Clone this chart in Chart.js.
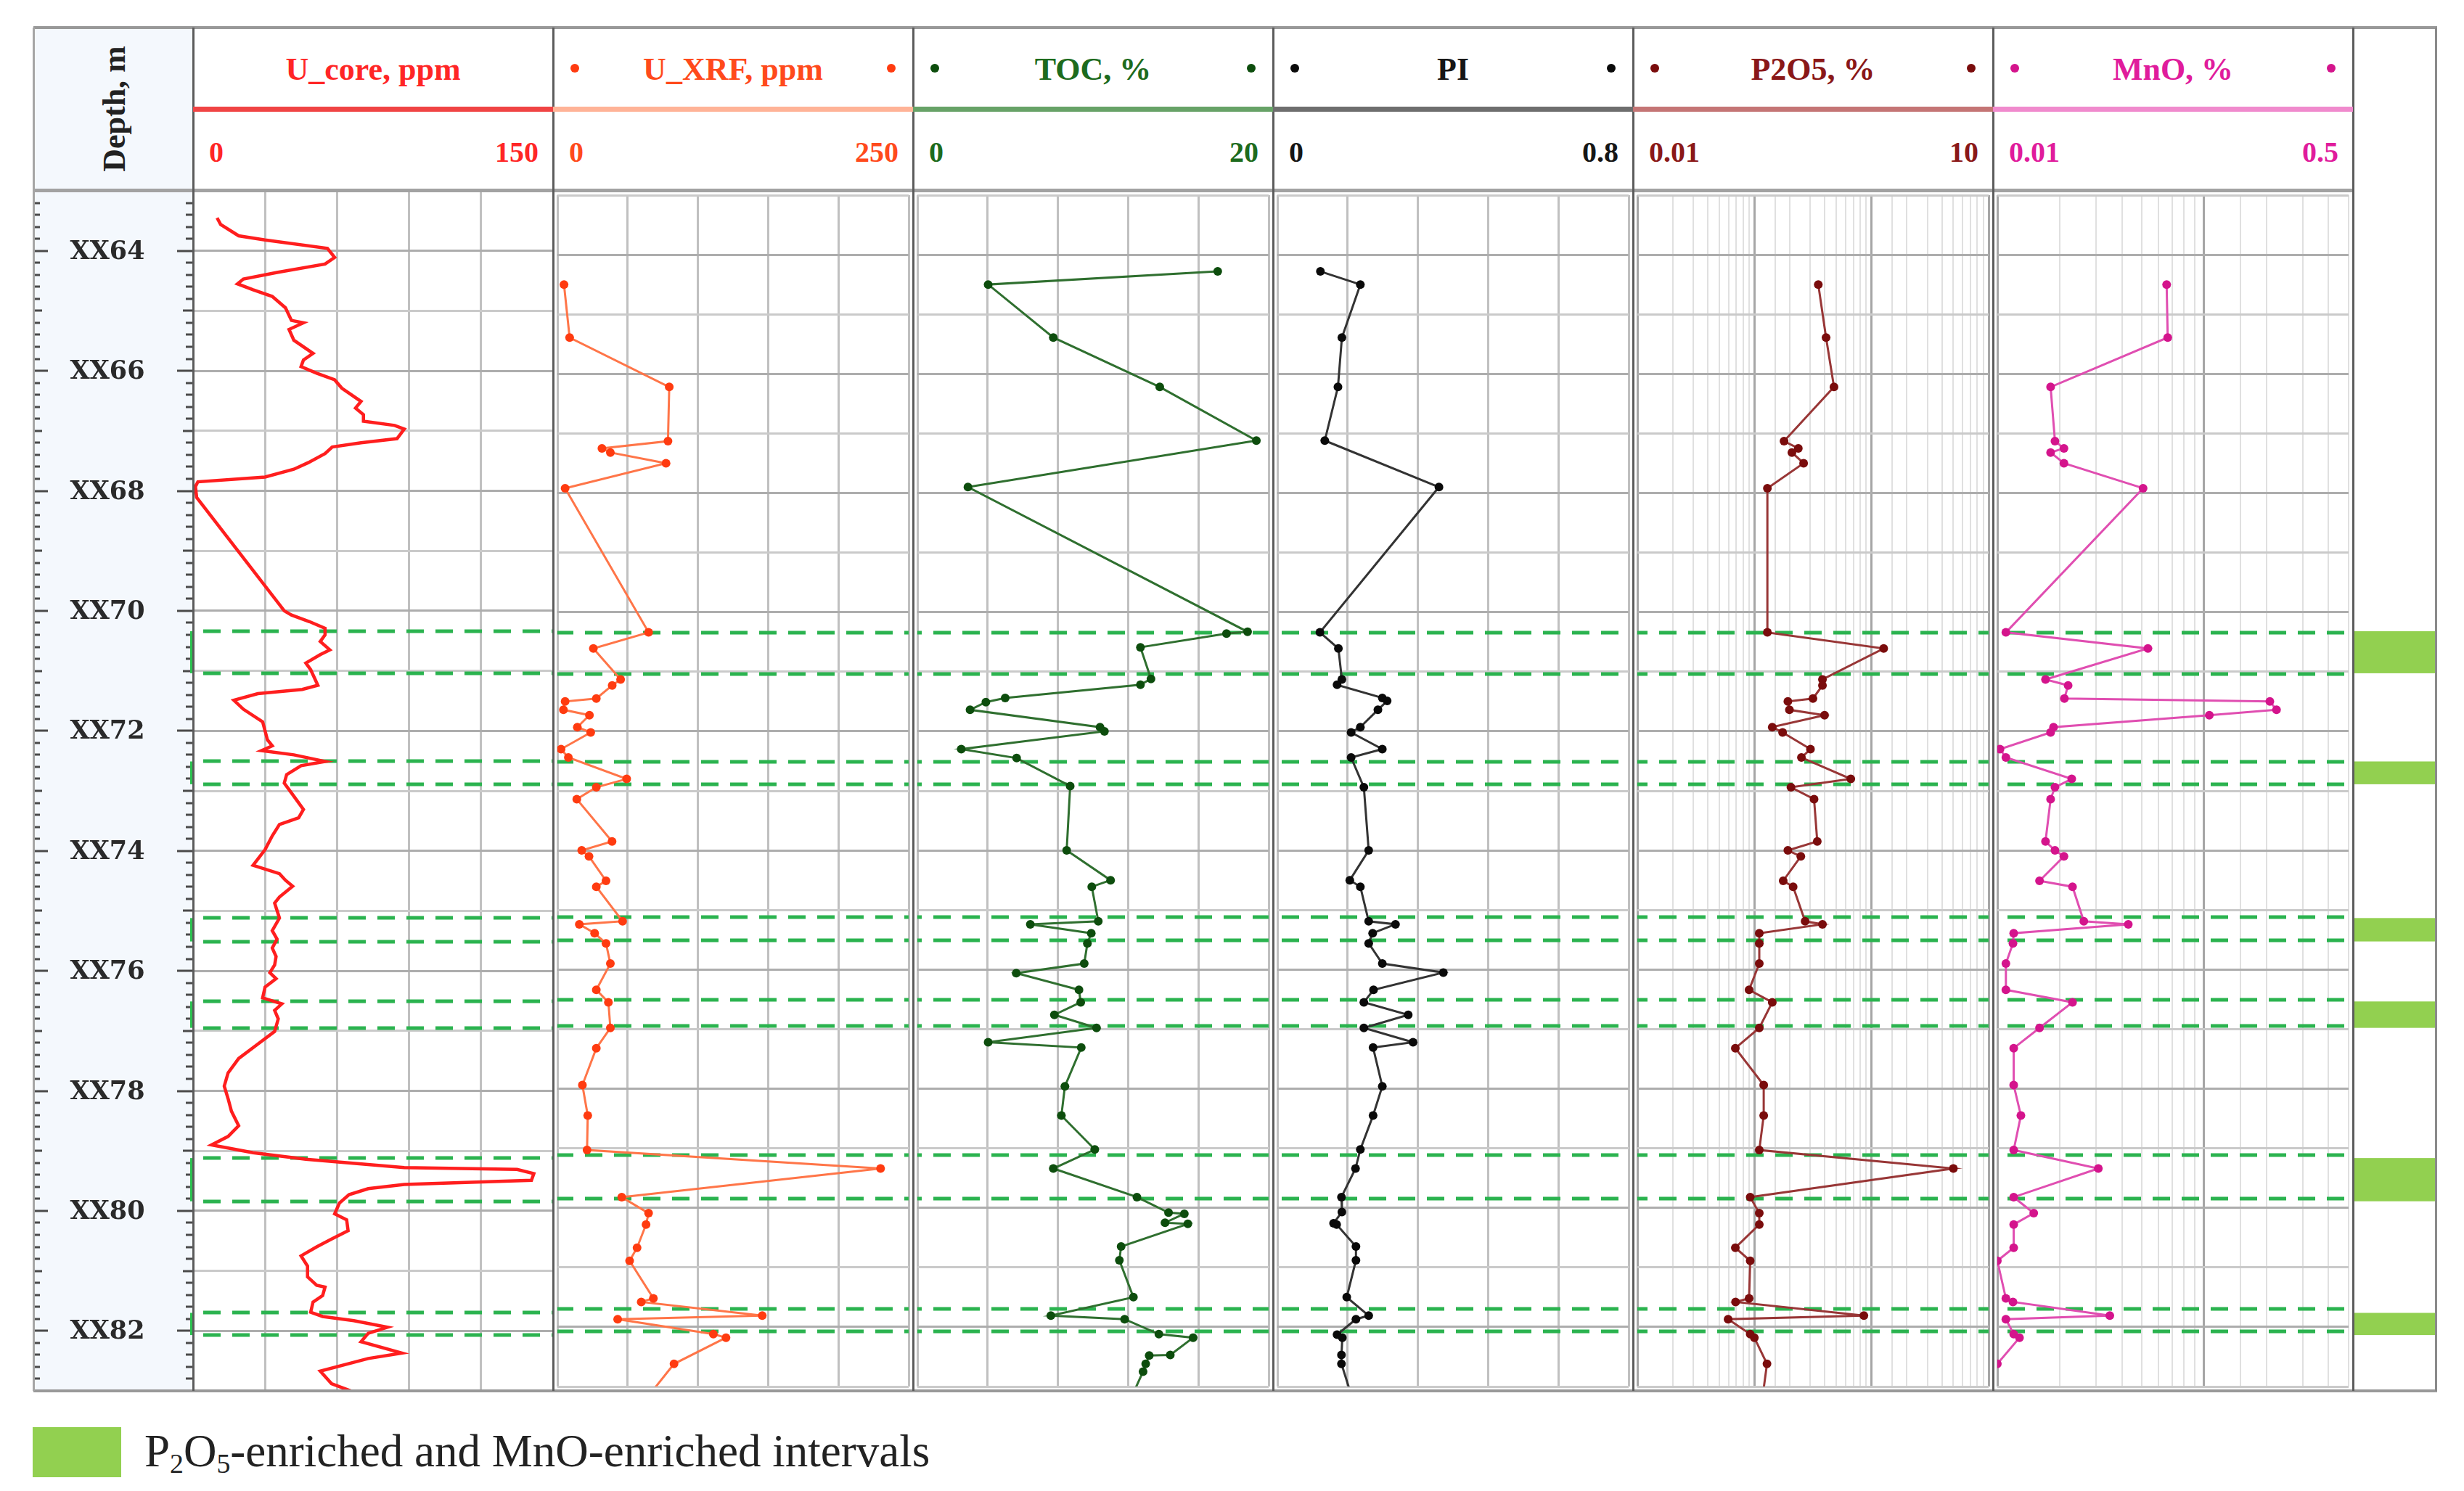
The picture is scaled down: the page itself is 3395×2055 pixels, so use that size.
<!DOCTYPE html>
<html>
<head>
<meta charset="utf-8">
<title>Well log</title>
<script src="https://cdn.jsdelivr.net/npm/chart.js@4.4.1/dist/chart.umd.min.js"></script>
<style>
  html, body { margin:0; padding:0; background:#ffffff; }
  #root { position:relative; width:3395px; height:2055px; overflow:hidden; background:#fff; }
  #root canvas { position:absolute; z-index:1; }
  .bg { position:absolute; z-index:0; }
  .ln { position:absolute; z-index:5; }
  .txt { position:absolute; z-index:6; white-space:nowrap; transform:translate(-50%,-50%); line-height:1; }
  .dot { position:absolute; z-index:6; width:12px; height:12px; border-radius:50%; transform:translate(-50%,-50%); }
</style>
</head>
<body>
<div id="root"></div>
<script>
// ---------------- DATA ----------------
const depthMin = 63;
const depthMax = 83;
const trackNames = ['U_core, ppm', 'U_XRF, ppm', 'TOC, %', 'PI', 'P2O5, %', 'MnO, %'];
const scaleMin = [0, 0, 0, 0, 0.01, 0.01];
const scaleMax = [150, 250, 20, 0.8, 10, 0.5];
const scaleLeftLabels = ['0', '0', '0', '0', '0.01', '0.01'];
const scaleRightLabels = ['150', '250', '20', '0.8', '10', '0.5'];
const depthLabelPrefix = 'XX';

const uCoreDepth = [63.45,63.56,63.75,63.82,63.96,64.11,64.22,64.36,64.47,64.55,64.65,64.76,64.95,65.16,65.2,65.31,65.49,65.71,65.82,65.93,66.04,66.15,66.29,66.51,66.62,66.73,66.84,66.91,66.97,67.13,67.2,67.27,67.38,67.53,67.64,67.77,67.85,67.93,68.11,
  70.0,70.07,70.18,70.29,70.4,70.51,70.65,70.73,70.87,70.98,71.24,71.31,71.38,71.49,71.64,71.85,72.15,72.25,72.33,72.4,72.51,72.58,72.73,72.87,73.09,73.31,73.45,73.56,73.75,73.98,
  74.24,74.38,74.49,74.59,74.77,74.87,75.12,75.33,75.47,75.62,75.76,75.9,76.03,76.13,76.27,76.45,76.55,76.66,76.8,77.01,77.22,77.46,77.7,77.92,78.13,78.34,78.58,78.76,78.9,
  79.03,79.14,79.28,79.31,79.38,79.49,79.56,79.63,79.73,79.87,80.05,80.15,80.33,80.47,80.6,80.75,80.92,81.1,81.24,81.27,81.41,81.52,81.69,81.76,81.83,81.94,82.04,82.18,82.37,82.46,82.67,82.88,83.02];
const uCoreValue = [10,11.5,19,30,56,59,55,35,21,18.5,25,33,38.5,41,46,40,42,50,46,45,51.5,59,62,70,67.7,71,71,84,88,85,70,58,55,48,42,30,2,1,1.5,
  38,41,48.5,55,55,53,57,53,47,49,52,45.5,27,17,21,29,31,33,28.5,42,55,45,39,38,42,46,44,36,33,30,
  25,36,38.5,41.5,36,34,36,33,35,33,34.6,34,32,34.6,30,29,37,34,35.5,34,27,19,14.6,13,14.6,16,19,14.6,7.7,
  25,47,88,135,142,141,88,73,65,61,59,64,64.6,57.7,51.5,45,47.7,47.7,51.5,55,54,50,49,54,67,81,73,70,87,73,53,57.7,67];

const xrfDepth = [64.5,65.39,66.22,67.13,67.25,67.32,67.5,67.92,70.34,70.61,71.13,71.23,71.45,71.5,71.64,71.73,71.93,72.02,72.3,72.44,72.8,72.94,73.14,73.85,74.0,74.1,74.51,74.61,75.19,75.24,75.39,75.56,75.9,76.34,76.55,76.98,77.32,77.94,78.45,79.03,79.34,79.82,80.09,80.28,80.67,80.89,81.52,81.58,81.81,81.87,82.12,82.18,82.62,83.3];
const uXrfValue = [4.7,8.7,79.6,78.7,31.7,37.7,77.3,5.5,64.9,25.6,45,39,27.7,5.5,4.3,22.8,14.2,23.7,2.6,7.8,49.3,27.7,13.8,38.9,17.3,22.5,34.6,27.7,46.4,15.6,26.5,34.6,37.7,27.7,36.3,37.7,27.7,17.8,21.6,21.1,230,45.8,64.9,63.1,56.7,51.4,68.3,59.7,145.8,42.9,111,120,83,60];
const p2o5Value = [0.351,0.409,0.478,0.179,0.237,0.209,0.263,0.129,0.129,1.27,0.381,0.381,0.316,0.193,0.199,0.397,0.142,0.174,0.301,0.252,0.665,0.205,0.323,0.344,0.193,0.249,0.176,0.214,0.271,0.381,0.110,0.110,0.110,0.090,0.142,0.110,0.0687,0.120,0.120,0.110,5.0,0.092,0.110,0.110,0.0687,0.092,0.090,0.069,0.86,0.0596,0.092,0.0998,0.128,0.115];
const mnoValue = [0.0659,0.0667,0.0181,0.019,0.021,0.0181,0.021,0.0507,0.011,0.0535,0.0171,0.022,0.0211,0.208,0.224,0.106,0.0187,0.0181,0.0103,0.011,0.0229,0.019,0.0181,0.0171,0.019,0.021,0.016,0.0231,0.0262,0.043,0.012,0.0119,0.011,0.011,0.0231,0.016,0.012,0.012,0.013,0.012,0.0308,0.012,0.015,0.012,0.012,0.010,0.011,0.0119,0.035,0.011,0.012,0.0128,0.010,0.0085];

const tocDepth = [64.28,64.5,65.39,66.22,67.12,67.9,70.33,70.36,70.59,71.12,71.22,71.44,71.51,71.64,71.93,72.0,72.3,72.45,72.92,74.0,74.5,74.61,75.19,75.24,75.39,75.56,75.9,76.06,76.34,76.55,76.76,76.98,77.22,77.31,77.96,78.45,79.02,79.34,79.82,80.08,80.1,80.25,80.27,80.65,80.88,81.5,81.81,81.87,82.12,82.18,82.47,82.48,82.62,82.75,83.3];
const tocValue = [17.1,4.03,7.74,13.8,19.3,2.88,18.8,17.6,12.7,13.3,12.7,5.0,3.9,3.0,10.4,10.65,2.5,5.65,8.7,8.5,11.0,9.93,10.3,6.43,9.9,9.68,9.5,5.63,9.2,9.3,7.8,10.2,4.03,9.33,8.4,8.2,10.1,7.74,12.5,14.3,15.2,14.1,15.4,11.6,11.5,12.3,7.6,11.8,13.75,15.7,14.4,13.2,13.0,12.85,12.0];

const piDepth = [64.28,64.5,65.39,66.22,67.12,67.9,70.34,70.61,71.13,71.22,71.44,71.49,71.64,71.93,72.02,72.3,72.44,72.94,74.0,74.5,74.61,75.19,75.24,75.39,75.56,75.9,76.05,76.34,76.55,76.76,76.98,77.22,77.31,77.96,78.45,79.02,79.34,79.82,80.07,80.26,80.28,80.65,80.88,81.5,81.81,81.87,82.13,82.18,82.47,82.62,83.3];
const piValue = [0.098,0.189,0.147,0.138,0.108,0.368,0.097,0.139,0.147,0.136,0.239,0.25,0.229,0.189,0.168,0.239,0.168,0.197,0.208,0.165,0.189,0.208,0.269,0.217,0.208,0.239,0.378,0.219,0.197,0.298,0.197,0.309,0.218,0.239,0.218,0.189,0.178,0.146,0.147,0.128,0.135,0.179,0.179,0.158,0.208,0.179,0.136,0.148,0.146,0.146,0.175];

const intervalTop = [70.34, 72.51, 75.12, 76.51, 79.12, 81.70];
const intervalBottom = [71.04, 72.89, 75.51, 76.95, 79.84, 82.07];
const legendText = 'P<sub style="font-size:60%;vertical-align:-0.25em">2</sub>O<sub style="font-size:60%;vertical-align:-0.25em">5</sub>-enriched and MnO-enriched intervals';

// ---------------- LAYOUT / STYLE ----------------
const FRAME_L = 46, FRAME_R = 3356, FRAME_T = 38, HEAD_B = 263, PLOT_B = 1917;
const TRACK_L = 266, TRACK_W = 496, NT = 6;
const RIGHT_COL_L = TRACK_L + NT * TRACK_W; // 3242
const titleColors = ['#ff2626', '#ff4a1c', '#1d6b1d', '#161616', '#8a1818', '#e01c9c'];
const ruleColors = ['#f04444', '#ffb397', '#67a267', '#6e6e6e', '#c47575', '#f08acd'];
const dotColors = [null, '#ff3b10', '#0d4d0d', '#0a0a0a', '#7a0c0c', '#d4148c'];
const lineColors = ['#ff1e1e', '#ff7548', '#2f6f2f', '#333333', '#983636', '#e04eb1'];
const DASH_GREEN = '#2bb34f';
const BAND_GREEN = '#92d050';

const root = document.getElementById('root');
function div(cls, css, html) {
  const d = document.createElement('div');
  d.className = cls;
  Object.assign(d.style, css);
  if (html !== undefined) d.innerHTML = html;
  root.appendChild(d);
  return d;
}

// depth column background
div('bg', {left: FRAME_L + 'px', top: FRAME_T + 'px', width: (TRACK_L - FRAME_L) + 'px', height: (PLOT_B - FRAME_T) + 'px', background: '#f4f8fd'});

// ---------------- PLUGINS ----------------
const intervalLinesPlugin = {
  id: 'intervalLines',
  beforeDatasetsDraw(chart, args, opts) {
    const ys = chart.scales.y, a = chart.chartArea, ctx = chart.ctx;
    ctx.save();
    ctx.strokeStyle = DASH_GREEN;
    ctx.lineWidth = 5;
    ctx.setLineDash([24, 16]);
    ctx.lineDashOffset = (opts.offset || 0) % 40;
    intervalTop.concat(intervalBottom).forEach(d => {
      const py = Math.round(ys.getPixelForValue(d));
      ctx.beginPath();
      ctx.moveTo(a.left, py);
      ctx.lineTo(a.right, py);
      ctx.stroke();
    });
    ctx.restore();
  }
};

const depthAxisPlugin = {
  id: 'depthAxis',
  afterDraw(chart) {
    const ys = chart.scales.y, ctx = chart.ctx, w = chart.width;
    ctx.save();
    ctx.strokeStyle = '#4a4a4a';
    ctx.lineWidth = 3;
    for (let i = 0; i <= 100; i++) {
      const v = depthMin + i * 0.2;
      const py = Math.round(ys.getPixelForValue(v));
      let lenL = 9, lenR = 10;
      if (i % 5 === 0) { lenL = 12; lenR = 14; }
      if ((i - 5) % 10 === 0) { lenL = 20; lenR = 22; }
      ctx.beginPath();
      ctx.moveTo(0, py); ctx.lineTo(lenL, py);
      ctx.moveTo(w - lenR, py); ctx.lineTo(w, py);
      ctx.stroke();
    }
    // depth labels from the scale's own ticks
    ctx.fillStyle = '#2a2a2a';
    ctx.font = 'bold 35px "DejaVu Serif"';
    ctx.textAlign = 'center';
    ctx.textBaseline = 'middle';
    ys.ticks.forEach(t => {
      const v = Math.round(t.value);
      if (Math.abs(t.value - v) < 1e-6 && v % 2 === 0 && v > depthMin && v < depthMax) {
        ctx.fillText(depthLabelPrefix + v, 102, ys.getPixelForValue(v) + 2);
      }
    });
    ctx.strokeStyle = '#2bc24f';
    ctx.lineWidth = 4;
    intervalTop.forEach((t, k) => {
      ctx.beginPath();
      ctx.moveTo(w - 2, ys.getPixelForValue(t));
      ctx.lineTo(w - 2, ys.getPixelForValue(intervalBottom[k]));
      ctx.stroke();
    });
    ctx.restore();
  }
};

const bandPlugin = {
  id: 'bands',
  beforeDatasetsDraw(chart) {
    const ys = chart.scales.y, a = chart.chartArea, ctx = chart.ctx;
    ctx.save();
    ctx.fillStyle = BAND_GREEN;
    intervalTop.forEach((t, k) => {
      const y1 = ys.getPixelForValue(t), y2 = ys.getPixelForValue(intervalBottom[k]);
      ctx.fillRect(a.left, y1, a.right - a.left, y2 - y1);
    });
    ctx.restore();
  }
};

function makeCanvas(left, top, w, h) {
  const c = document.createElement('canvas');
  c.width = w; c.height = h;
  c.style.left = left + 'px'; c.style.top = top + 'px';
  c.style.width = w + 'px'; c.style.height = h + 'px';
  root.appendChild(c);
  return c;
}

const baseOptions = () => ({
  responsive: false,
  maintainAspectRatio: false,
  animation: false,
  devicePixelRatio: 1,
  layout: {padding: 0},
  plugins: {legend: {display: false}, tooltip: {enabled: false}},
  events: []
});

const yGrid = {
  display: true,
  drawTicks: false,
  color: ctx => (ctx.tick && Math.round(ctx.tick.value) % 2 === 0) ? '#adadad' : '#cacaca',
  lineWidth: 3
};

// ---------------- DEPTH COLUMN CHART ----------------
(function () {
  const w = TRACK_L - FRAME_L, h = PLOT_B - HEAD_B;
  const c = makeCanvas(FRAME_L, HEAD_B, w, h);
  const opts = baseOptions();
  opts.scales = {
    x: {type: 'linear', display: false, min: 0, max: 1},
    y: {type: 'linear', display: false, reverse: true, min: depthMin, max: depthMax, ticks: {stepSize: 1}}
  };
  new Chart(c, {type: 'scatter', data: {datasets: []}, options: opts, plugins: [depthAxisPlugin]});
})();

// ---------------- TRACK CHARTS ----------------
function pts(depths, vals) { return depths.map((d, k) => ({x: vals[k], y: d})); }

const trackData = [
  [{data: pts(uCoreDepth, uCoreValue), points: false}],
  [{data: pts(xrfDepth, uXrfValue), points: true}],
  [{data: pts(tocDepth, tocValue), points: true}],
  [{data: pts(piDepth, piValue), points: true}],
  [{data: pts(xrfDepth, p2o5Value), points: true}],
  [{data: pts(xrfDepth, mnoValue), points: true}]
];
const isLog = [false, false, false, false, true, true];

function isDecade(v) {
  const l = Math.log10(v);
  return Math.abs(l - Math.round(l)) < 1e-6;
}

for (let i = 0; i < NT; i++) {
  const left = TRACK_L + i * TRACK_W;
  const c = makeCanvas(left, HEAD_B, TRACK_W, PLOT_B - HEAD_B);
  const opts = baseOptions();
  let xScale;
  if (isLog[i]) {
    xScale = {
      type: 'logarithmic', min: scaleMin[i], max: scaleMax[i], position: 'top',
      ticks: {display: false},
      grid: {
        drawTicks: false,
        color: ctx => (ctx.tick && isDecade(ctx.tick.value)) ? '#a6a6a6' : '#e0e0e0',
        lineWidth: ctx => (ctx.tick && isDecade(ctx.tick.value)) ? 3 : 2
      },
      border: {display: false}
    };
  } else {
    xScale = {
      type: 'linear', min: scaleMin[i], max: scaleMax[i], position: 'top',
      ticks: {display: false, count: 6},
      grid: {drawTicks: false, color: '#c0c0c0', lineWidth: 3},
      border: {display: false}
    };
  }
  opts.scales = {
    x: xScale,
    y: {type: 'linear', reverse: true, min: depthMin, max: depthMax, ticks: {display: false, stepSize: 1}, grid: yGrid, border: {display: false}}
  };
  opts.plugins.intervalLines = {offset: left};
  const datasets = trackData[i].map(s => ({
    data: s.data,
    showLine: true,
    tension: 0,
    borderColor: lineColors[i],
    borderWidth: s.points ? 3 : 4.5,
    pointRadius: s.points ? 6 : 0,
    pointBackgroundColor: dotColors[i] || lineColors[i],
    pointBorderColor: dotColors[i] || lineColors[i],
    pointBorderWidth: 0
  }));
  new Chart(c, {type: 'scatter', data: {datasets}, options: opts, plugins: [intervalLinesPlugin]});
}

// ---------------- RIGHT COLUMN (interval bands) ----------------
(function () {
  const c = makeCanvas(RIGHT_COL_L, HEAD_B, FRAME_R - RIGHT_COL_L, PLOT_B - HEAD_B);
  const opts = baseOptions();
  opts.scales = {
    x: {type: 'linear', display: false, min: 0, max: 1},
    y: {type: 'linear', display: false, reverse: true, min: depthMin, max: depthMax}
  };
  new Chart(c, {type: 'scatter', data: {datasets: []}, options: opts, plugins: [bandPlugin]});
})();

// ---------------- FRAME LINES ----------------
const gridFrame = '#999999';
div('ln', {left: FRAME_L + 'px', top: (FRAME_T - 2) + 'px', width: (FRAME_R - FRAME_L + 2) + 'px', height: '4px', background: gridFrame});
div('ln', {left: FRAME_L + 'px', top: (HEAD_B - 3) + 'px', width: (RIGHT_COL_L - FRAME_L) + 'px', height: '5px', background: '#a2a2a2'});
div('ln', {left: FRAME_L + 'px', top: (PLOT_B - 2) + 'px', width: (FRAME_R - FRAME_L + 2) + 'px', height: '4px', background: gridFrame});
div('ln', {left: (FRAME_L - 1) + 'px', top: FRAME_T + 'px', width: '3px', height: (PLOT_B - FRAME_T) + 'px', background: '#a5a5a5'});
div('ln', {left: (FRAME_R - 1) + 'px', top: FRAME_T + 'px', width: '3px', height: (PLOT_B - FRAME_T) + 'px', background: '#8a8a8a'});
for (let i = 0; i <= NT; i++) {
  const x = TRACK_L + i * TRACK_W;
  div('ln', {left: (x - 1) + 'px', top: FRAME_T + 'px', width: '3px', height: (PLOT_B - FRAME_T) + 'px', background: '#5c5c5c'});
}

// ---------------- HEADER ----------------
div('txt', {left: '158px', top: '150px', transform: 'translate(-50%,-50%) rotate(-90deg)', fontFamily: "'Liberation Serif', serif", fontWeight: 'bold', fontSize: '44px', color: '#222'}, 'Depth, m');

for (let i = 0; i < NT; i++) {
  const L = TRACK_L + i * TRACK_W, R = L + TRACK_W, C = (L + R) / 2;
  div('txt', {left: C + 'px', top: '96px', fontFamily: "'Liberation Serif', serif", fontWeight: 'bold', fontSize: '44px', color: titleColors[i]}, trackNames[i]);
  div('ln', {left: L + 'px', top: '147px', width: TRACK_W + 'px', height: '7px', background: ruleColors[i]});
  const lab = {top: '210px', fontFamily: "'Liberation Serif', serif", fontWeight: 'bold', fontSize: '40px', color: titleColors[i], transform: 'translate(0,-50%)'};
  div('txt', Object.assign({}, lab, {left: (L + 22) + 'px'}), scaleLeftLabels[i]);
  div('txt', Object.assign({}, lab, {left: (R - 20) + 'px', transform: 'translate(-100%,-50%)'}), scaleRightLabels[i]);
  if (dotColors[i]) {
    div('dot', {left: (L + 30) + 'px', top: '94px', background: dotColors[i]});
    div('dot', {left: (R - 30) + 'px', top: '94px', background: dotColors[i]});
  }
}

// ---------------- LEGEND ----------------
div('bg', {left: '45px', top: '1967px', width: '122px', height: '69px', background: BAND_GREEN});
div('txt', {left: '199px', top: '2003px', transform: 'translate(0,-50%)', fontFamily: "'Liberation Serif', serif", fontSize: '63px', color: '#222'}, legendText);
</script>
</body>
</html>
